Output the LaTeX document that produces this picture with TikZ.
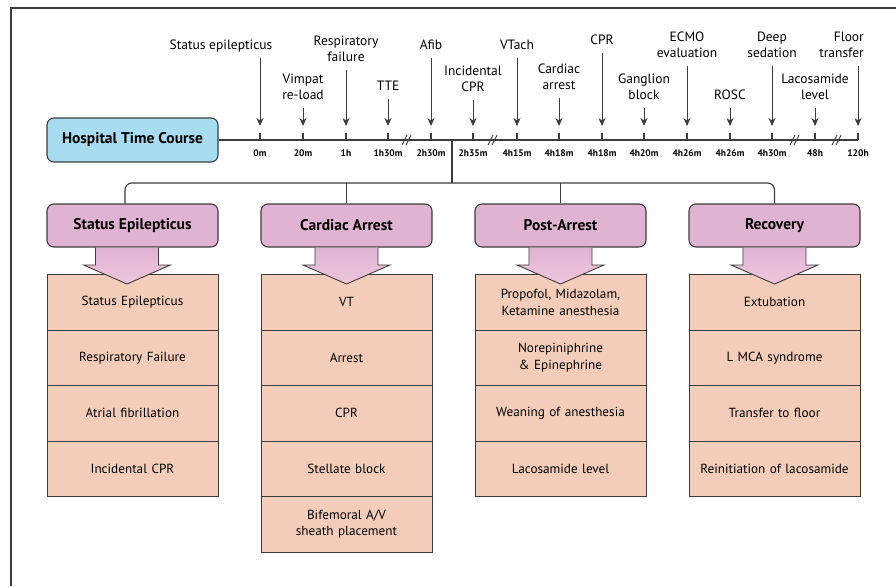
\documentclass[tikz,border=0pt]{standalone}
\usepackage{fontspec}
\setmainfont{PT Sans}
\usetikzlibrary{positioning,arrows.meta}

\definecolor{htcblue}{HTML}{A8DCF1}
\definecolor{catpink}{HTML}{E1B3D3}
\definecolor{arrowpink}{HTML}{EEC6DC}
\definecolor{itemsalmon}{HTML}{F4CDBA}
\definecolor{linegray}{HTML}{3C3C3C}

\tikzset{
  htcbox/.style={draw=linegray, fill=htcblue, rounded corners=7pt, line width=1.1pt,
    minimum width=171pt, minimum height=44pt, inner sep=0pt,
    font=\fontsize{15.5}{18}\selectfont\bfseries},
  catbox/.style={draw=linegray, fill=catpink, rounded corners=7pt, line width=1.1pt,
    minimum width=171pt, minimum height=43pt, inner sep=0pt,
    font=\fontsize{15.5}{18}\selectfont\bfseries},
  itembox/.style={draw=linegray, fill=itemsalmon, line width=0.9pt,
    minimum width=171pt, minimum height=55.5pt, text width=167pt, align=center,
    inner sep=0pt, outer sep=0pt, font=\fontsize{13.2}{16.5}\selectfont},
  evlabel/.style={anchor=south, align=center, inner sep=1pt, text depth=3pt,
    yshift=4.5pt, font=\fontsize{13.5}{16}\selectfont},
  ticklabel/.style={inner sep=0pt, font=\fontsize{9.5}{11}\selectfont\bfseries},
  evarrow/.style={draw=linegray, line width=1pt, shorten <=4.5pt,
    -{Stealth[length=8pt,width=7pt]}},
  tlline/.style={draw=linegray, line width=1.1pt},
  bigarrow/.style={draw=linegray, line width=0.9pt, top color=catpink, bottom color=arrowpink},
}

\begin{document}
\begin{tikzpicture}[x=1pt,y=-1pt]
  \useasboundingbox (0,0) rectangle (896,586);
  % frame
  \draw[linegray, line width=1.3pt] (11,586) -- (11,8) -- (896,8);

  % time course
  \node[htcbox] (htc) at (132.5,140) {Hospital Time Course};
  \coordinate (tipline) at (0,126);
  \coordinate (tickline) at (0,133);
  \coordinate (tl) at (0,140);

  \node[ticklabel] (t0) at (260,153) {0m};
  \node[ticklabel] (t1) at (303,153) {20m};
  \node[ticklabel] (t2) at (346,153) {1h};
  \node[ticklabel] (t3) at (388,153) {1h30m};
  \node[ticklabel] (t4) at (431,153) {2h30m};
  \node[ticklabel] (t5) at (473,153) {2h35m};
  \node[ticklabel] (t6) at (517,153) {4h15m};
  \node[ticklabel] (t7) at (559,153) {4h18m};
  \node[ticklabel] (t8) at (602,153) {4h18m};
  \node[ticklabel] (t9) at (644,153) {4h20m};
  \node[ticklabel] (t10) at (687,153) {4h26m};
  \node[ticklabel] (t11) at (730,153) {4h26m};
  \node[ticklabel] (t12) at (772,153) {4h30m};
  \node[ticklabel] (t13) at (815,153) {48h};
  \node[ticklabel] (t14) at (858,153) {120h};

  \node[evlabel] (ev0) at (221,58) {Status epilepticus};
  \node[evlabel] (ev1) at (303,108) {Vimpat\\re-load};
  \node[evlabel] (ev2) at (346,70) {Respiratory\\failure};
  \node[evlabel] (ev3) at (388,99) {TTE};
  \node[evlabel] (ev4) at (431,58) {Afib};
  \node[evlabel] (ev5) at (473,100) {Incidental\\CPR};
  \node[evlabel] (ev6) at (517,58) {VTach};
  \node[evlabel] (ev7) at (559,98) {Cardiac\\arrest};
  \node[evlabel] (ev8) at (602,53) {CPR};
  \node[evlabel] (ev9) at (644,108) {Ganglion\\block};
  \node[evlabel] (ev10) at (687,66) {ECMO\\evaluation};
  \node[evlabel] (ev11) at (730,108) {ROSC};
  \node[evlabel] (ev12) at (772,66) {Deep\\sedation};
  \node[evlabel] (ev13) at (815,108) {Lacosamide\\level};
  \node[evlabel, anchor=south east, align=right] (ev14) at (865,66) {Floor\\transfer};

  \path[tlline] (htc.east) -- (t14 |- tl);
  \foreach \i in {0,...,14} {
    \path[tlline] (t\i |- tickline) -- (t\i |- tl);
    \path[evarrow] (ev\i.south -| t\i) -- (t\i |- tipline);
  }
  % breaks
  \foreach \bx in {407,493,795,837}
    \draw[linegray, line width=0.9pt] (\bx-5,145) -- (\bx,135) (\bx-1,145) -- (\bx+4,135);

  % phases
  \node[catbox] (se) at (132.5,225.5) {Status Epilepticus};
  \node[catbox] (ca) at (346.5,225.5) {Cardiac Arrest};
  \node[catbox] (pa) at (560.5,225.5) {Post-Arrest};
  \node[catbox] (rc) at (774.5,225.5) {Recovery};

  \coordinate (hub) at (452,183);
  \path[tlline] (hub |- tl) -- (hub);
  \path[tlline, rounded corners=7pt] ([xshift=-7.5pt]se.north) |- (hub) -| (rc.north);
  \path[tlline] (hub -| ca.north) -- (ca.north);
  \path[tlline] (hub -| pa.north) -- (pa.north);

  % status epilepticus
  \node[itembox, below=27pt of se] (se1) {Status Epilepticus};
  \node[itembox, below=0pt of se1] (se2) {Respiratory Failure};
  \node[itembox, below=0pt of se2] (se3) {Atrial fibrillation};
  \node[itembox, below=0pt of se3] (se4) {Incidental CPR};
  % cardiac arrest
  \node[itembox, below=27pt of ca] (ca1) {VT};
  \node[itembox, below=0pt of ca1] (ca2) {Arrest};
  \node[itembox, below=0pt of ca2] (ca3) {CPR};
  \node[itembox, below=0pt of ca3] (ca4) {Stellate block};
  \node[itembox, below=0pt of ca4] (ca5) {Bifemoral A/V\\sheath placement};
  % post-arrest
  \node[itembox, below=27pt of pa] (pa1) {Propofol, Midazolam,\\Ketamine anesthesia};
  \node[itembox, below=0pt of pa1] (pa2) {Norepiniphrine\\\& Epinephrine};
  \node[itembox, below=0pt of pa2] (pa3) {Weaning of anesthesia};
  \node[itembox, below=0pt of pa3] (pa4) {Lacosamide level};
  % recovery
  \node[itembox, below=27pt of rc] (rc1) {Extubation};
  \node[itembox, below=0pt of rc1] (rc2) {L MCA syndrome};
  \node[itembox, below=0pt of rc2] (rc3) {Transfer to floor};
  \node[itembox, below=0pt of rc3] (rc4) {Reinitiation of lacosamide};

  % phase arrows
  \path[bigarrow] (95.5,247.6) -- (95.5,265) -- (83.5,265) -- (127,284) -- (170.5,265) -- (158.5,265) -- (158.5,247.6);
  \path[bigarrow] (315,247.6) -- (315,265) -- (303,265) -- (346.5,284) -- (390,265) -- (378,265) -- (378,247.6);
  \path[bigarrow] (529,247.6) -- (529,265) -- (517,265) -- (560.5,284) -- (604,265) -- (592,265) -- (592,247.6);
  \path[bigarrow] (743,247.6) -- (743,265) -- (731,265) -- (774.5,284) -- (818,265) -- (806,265) -- (806,247.6);
\end{tikzpicture}
\end{document}
